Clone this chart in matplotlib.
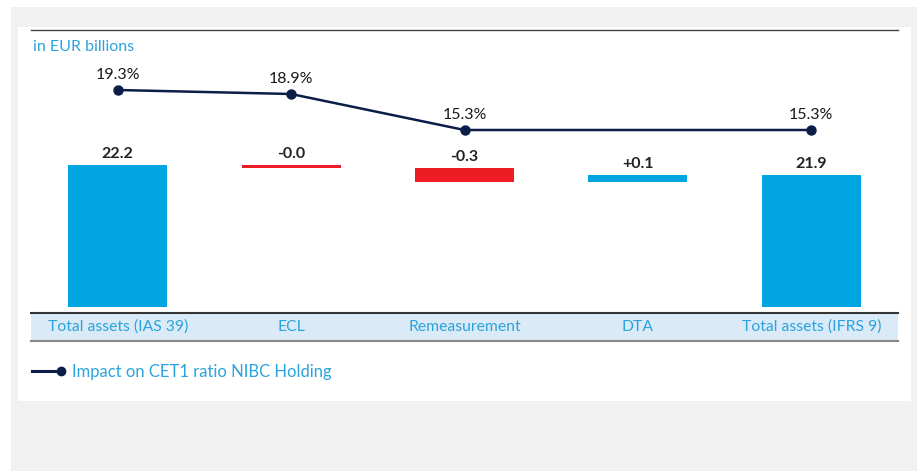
import matplotlib.pyplot as plt
from matplotlib.patches import Rectangle
from matplotlib.lines import Line2D

plt.rcParams['font.family'] = ['Lato', 'DejaVu Sans']

# data
categories = ['Total assets (IAS 39)', 'ECL', 'Remeasurement', 'DTA', 'Total assets (IFRS 9)']
start_total = 22.2
deltas = [-0.08, -0.42, 0.2]          # bar sizes as drawn
end_total = 21.9
value_labels = ['22.2', '-0.0', '-0.3', '+0.1', '21.9']
cet1_x = [0, 1, 2, 4]
cet1_ratio = [19.3, 18.9, 15.3, 15.3]
cet1_labels = ['19.3%', '18.9%', '15.3%', '15.3%']

W, H = 917, 471
blue = '#00a5e2'
red = '#ee1c25'
navy = '#0b1d48'
txt_blue = '#2ba3dc'

fig = plt.figure(figsize=(W / 100, H / 100), dpi=100, facecolor='white')


def px_box(x0, y0, x1, y1):
    return [x0 / W, 1 - y1 / H, (x1 - x0) / W, (y1 - y0) / H]


# background panels
fig.patches.append(Rectangle((11 / W, 0), 1, 1 - 7 / H, transform=fig.transFigure,
                             facecolor='#f1f1f1', edgecolor='none', zorder=-10))
fig.patches.append(Rectangle((18 / W, 1 - 401 / H), (911 - 18) / W, (401 - 27) / H,
                             transform=fig.transFigure, facecolor='white',
                             edgecolor='none', zorder=-9))
fig.lines.append(Line2D([31 / W, 898 / W], [1 - 30 / H, 1 - 30 / H], transform=fig.transFigure,
                        color='#444444', lw=1.0))

fig.text(33 / W, 1 - 47 / H, 'in EUR billions', color=txt_blue, fontsize=11.5, va='center')

# waterfall bars
ax = fig.add_axes(px_box(31, 31, 898, 307))
ax.set_facecolor('none')
ax.set_xlim(-0.5, 4.5)
ax.set_ylim(17.94, 26.22)
ax.axis('off')

width = 0.57
ax.bar(0, start_total, width, color=blue)
level = start_total
tops = [start_total]
for i, d in enumerate(deltas):
    col = blue if d > 0 else red
    ax.bar(i + 1, d, width, bottom=level, color=col)
    tops.append(max(level, level + d))
    level += d
ax.bar(4, end_total, width, color=blue)
tops.append(end_total)

for i, (t, lab) in enumerate(zip(tops, value_labels)):
    ax.annotate(lab, (i, t), xytext=(0, 5), textcoords='offset points',
                ha='center', va='baseline', fontsize=11.5, fontweight='bold', color='#222222')

# CET1 line
ax2 = ax.twinx()
ax2.set_ylim(-2.4, 25.2)
ax2.axis('off')
ax2.plot(cet1_x, cet1_ratio, color=navy, lw=1.8, marker='o', ms=6.5)
for x, y, lab in zip(cet1_x, cet1_ratio, cet1_labels):
    ax2.annotate(lab, (x, y), xytext=(0, 8), textcoords='offset points',
                 ha='center', va='baseline', fontsize=11.5, color='#1a1a1a')

# category band
band = fig.add_axes(px_box(31, 313, 898, 341))
band.set_facecolor('#dbeaf7')
band.set_xlim(-0.5, 4.5)
band.set_ylim(0, 1)
band.set_xticks([])
band.set_yticks([])
band.spines['left'].set_visible(False)
band.spines['right'].set_visible(False)
band.spines['top'].set_color('#333333')
band.spines['top'].set_linewidth(1.5)
band.spines['bottom'].set_color('#888888')
band.spines['bottom'].set_linewidth(1.5)
for i, c in enumerate(categories):
    band.text(i, 0.5, c, ha='center', va='center', fontsize=11.3, color=txt_blue)

# legend
fig.lines.append(Line2D([32 / W, 61 / W], [1 - 371 / H, 1 - 371 / H], transform=fig.transFigure,
                        color=navy, lw=2.2))
fig.lines.append(Line2D([61 / W], [1 - 371 / H], transform=fig.transFigure,
                        color=navy, marker='o', ms=6))
fig.text(72 / W, 1 - 372 / H, 'Impact on CET1 ratio NIBC Holding', color=txt_blue,
         fontsize=12, va='center')

fig.savefig('out.png', dpi=100, facecolor=fig.get_facecolor())
